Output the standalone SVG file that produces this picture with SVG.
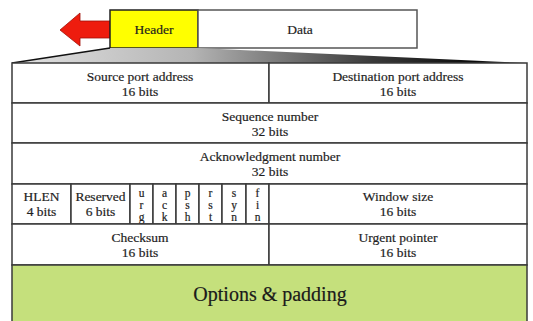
<svg xmlns="http://www.w3.org/2000/svg" width="533" height="321" viewBox="0 0 533 321">
  <defs>
    <linearGradient id="wedgeShade" x1="0" y1="0" x2="1" y2="0">
      <stop offset="0" stop-color="#e2e2e2"/>
      <stop offset="0.35" stop-color="#b4b4b4"/>
      <stop offset="0.7" stop-color="#3a3a3a"/>
      <stop offset="0.9" stop-color="#0a0a0a"/>
      <stop offset="1" stop-color="#555"/>
    </linearGradient>
    <style>
      .cell { fill: #ffffff; stroke: #3a3a3a; stroke-width: 1.5; }
      .opts { fill: #c5e07c; stroke: #3a3a3a; stroke-width: 1.5; }
      .lbl { font-family: "Liberation Serif", "Times New Roman", serif; font-size: 13.5px; fill: #1e1e1e; stroke: #1e1e1e; stroke-width: 0.2; text-anchor: middle; }
      .flag { font-family: "Liberation Serif", "Times New Roman", serif; font-size: 11.5px; fill: #1e1e1e; stroke: #1e1e1e; stroke-width: 0.2; text-anchor: middle; writing-mode: vertical-rl; text-orientation: upright; }
      .big { font-family: "Liberation Serif", "Times New Roman", serif; font-size: 20px; fill: #1a1a1a; stroke: #1a1a1a; stroke-width: 0.2; text-anchor: middle; }
    </style>
  </defs>

  <rect width="533" height="321" fill="#ffffff"/>

  <!-- segment overview: header + data -->
  <g id="arrow">
    <polygon points="60,30 80,13 80,21 110,21 110,38 80,38 80,46" fill="#ee1c0e" stroke="#a01008" stroke-width="0.8"/>
  </g>
  <g id="header">
    <rect x="110" y="10" width="88" height="38" fill="#ffff00" stroke="#222" stroke-width="1.5"/>
    <text class="lbl" x="154" y="34">Header</text>
  </g>
  <g id="data">
    <rect x="198" y="10" width="219" height="38" fill="#ffffff" stroke="#555" stroke-width="1.5"/>
    <text class="lbl" x="300" y="34">Data</text>
  </g>

  <!-- expansion wedge from header to detailed layout -->
  <g id="connectors">
    <polygon points="110,48 198,48 527,63 12,63" fill="url(#wedgeShade)"/>
    <line x1="110" y1="48" x2="12" y2="63" stroke="#111" stroke-width="1.5"/>
  </g>

  <!-- row 1 -->
  <g id="src-port">
    <rect class="cell" x="12" y="63" width="257" height="40"/>
    <text class="lbl" x="140" y="81">Source port address</text>
    <text class="lbl" x="140" y="96">16 bits</text>
  </g>
  <g id="dst-port">
    <rect class="cell" x="269" y="63" width="258" height="40"/>
    <text class="lbl" x="398" y="81">Destination port address</text>
    <text class="lbl" x="398" y="96">16 bits</text>
  </g>

  <!-- row 2 -->
  <g id="seq-num">
    <rect class="cell" x="12" y="103" width="515" height="40"/>
    <text class="lbl" x="270" y="121">Sequence number</text>
    <text class="lbl" x="270" y="136">32 bits</text>
  </g>

  <!-- row 3 -->
  <g id="ack-num">
    <rect class="cell" x="12" y="143" width="515" height="41"/>
    <text class="lbl" x="270" y="161">Acknowledgment number</text>
    <text class="lbl" x="270" y="176">32 bits</text>
  </g>

  <!-- row 4 -->
  <g id="hlen">
    <rect class="cell" x="12" y="184" width="59" height="40"/>
    <text class="lbl" x="41.5" y="201">HLEN</text>
    <text class="lbl" x="41.5" y="216">4 bits</text>
  </g>
  <g id="reserved">
    <rect class="cell" x="71" y="184" width="59" height="40"/>
    <text class="lbl" x="100.5" y="201">Reserved</text>
    <text class="lbl" x="100.5" y="216">6 bits</text>
  </g>
  <!-- one-bit flags, letters stacked top to bottom -->
  <g id="flag-urg">
    <rect class="cell" x="130" y="184" width="23" height="40"/>
    <text class="flag" x="141.5" y="204.5">urg</text>
  </g>
  <g id="flag-ack">
    <rect class="cell" x="153" y="184" width="23" height="40"/>
    <text class="flag" x="164.5" y="204.5">ack</text>
  </g>
  <g id="flag-psh">
    <rect class="cell" x="176" y="184" width="23" height="40"/>
    <text class="flag" x="187.5" y="204.5">psh</text>
  </g>
  <g id="flag-rst">
    <rect class="cell" x="199" y="184" width="23" height="40"/>
    <text class="flag" x="210.5" y="204.5">rst</text>
  </g>
  <g id="flag-syn">
    <rect class="cell" x="222" y="184" width="24" height="40"/>
    <text class="flag" x="234" y="204.5">syn</text>
  </g>
  <g id="flag-fin">
    <rect class="cell" x="246" y="184" width="23" height="40"/>
    <text class="flag" x="257.5" y="204.5">fin</text>
  </g>
  <g id="window">
    <rect class="cell" x="269" y="184" width="258" height="40"/>
    <text class="lbl" x="398" y="201">Window size</text>
    <text class="lbl" x="398" y="216">16 bits</text>
  </g>

  <!-- row 5 -->
  <g id="checksum">
    <rect class="cell" x="12" y="224" width="257" height="41"/>
    <text class="lbl" x="140" y="242">Checksum</text>
    <text class="lbl" x="140" y="257">16 bits</text>
  </g>
  <g id="urgent">
    <rect class="cell" x="269" y="224" width="258" height="41"/>
    <text class="lbl" x="398" y="242">Urgent pointer</text>
    <text class="lbl" x="398" y="257">16 bits</text>
  </g>

  <!-- options -->
  <g id="options">
    <rect class="opts" x="12" y="265" width="515" height="60"/>
    <text class="big" x="270" y="301">Options &amp; padding</text>
  </g>
</svg>
